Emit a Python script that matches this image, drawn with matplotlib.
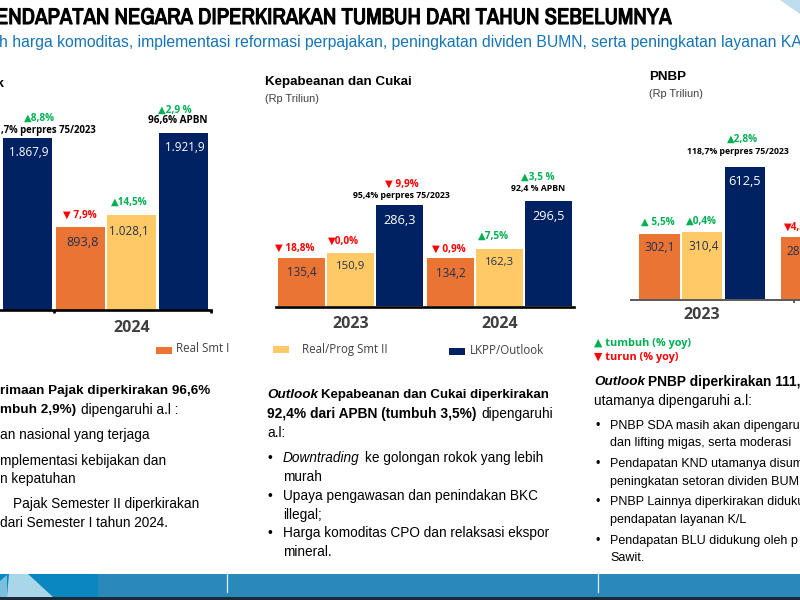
import matplotlib
matplotlib.use("Agg")
import matplotlib.pyplot as plt
import matplotlib.patheffects as pe
from matplotlib.patches import Polygon, Rectangle

ORANGE = "#E97434"
YELLOW = "#FFCA66"
NAVY = "#012262"
GREEN = "#00B050"
RED = "#FF0000"
BLUE = "#1474B8"
DARK = "#404040"
ARIAL = "Liberation Sans"
UI = ["Open Sans", "DejaVu Sans"]

# ---- data -----------------------------------------------------------------
pajak_values = [1867.9, 893.8, 1028.1, 1921.9]
pajak_labels = ["1.867,9", "893,8", "1.028,1", "1.921,9"]
pajak_growth = ["▲8,8%", "▼ 7,9%", "▲14,5%", "▲2,9 %"]
pajak_years = ["2024"]

cukai_values = [135.4, 150.9, 286.3, 134.2, 162.3, 296.5]
cukai_labels = ["135,4", "150,9", "286,3", "134,2", "162,3", "296,5"]
cukai_growth = ["▼ 18,8%", "▼0,0%", "▼ 9,9%", "▼ 0,9%", "▲7,5%", "▲3,5 %"]
cukai_years = ["2023", "2024"]

pnbp_values = [302.1, 310.4, 612.5, 288.4]
pnbp_labels = ["302,1", "310,4", "612,5", "288,4"]
pnbp_growth = ["▲ 5,5%", "▲0,4%", "▲2,8%", "▼4,5%"]
pnbp_years = ["2023"]

legend_names = ["Real Smt I", "Real/Prog Smt II", "LKPP/Outlook"]

# ---- canvas ---------------------------------------------------------------
fig = plt.figure(figsize=(8, 6), dpi=100, facecolor="white")
bg = fig.add_axes([0, 0, 1, 1], zorder=0)
bg.set_xlim(0, 800)
bg.set_ylim(600, 0)
bg.axis("off")


def t(x, y, s, size=9.85, weight="normal", style="normal", color="black",
      ha="left", family=ARIAL):
    return bg.text(x, y, s, fontsize=size, fontweight=weight, fontstyle=style,
                   color=color, ha=ha, va="center", family=family, clip_on=False)


# footer band
bg.add_patch(Rectangle((0, 574), 800, 23, fc="#2A88BA", ec="none"))
bg.add_patch(Rectangle((0, 574), 98, 23, fc="#0A87BF", ec="none"))
bg.add_patch(Polygon([(9, 574), (28, 574), (53, 597), (7, 597)], fc="#AAD6E9", ec="none"))
bg.add_patch(Polygon([(0, 581), (7, 575), (7, 597), (0, 597)], fc="#7CBFDC", ec="none"))
bg.add_patch(Rectangle((0, 597), 800, 3, fc="#1B2A38", ec="none"))
bg.plot([227, 227], [574, 592], color="#DDEEF6", lw=0.9)
bg.plot([597.5, 597.5], [574, 592], color="#DDEEF6", lw=0.9)
bg.add_patch(Polygon([(780, 0), (800, 0), (800, 14)], fc="#BFDDEC", ec="none"))

# header
title = t(672, 18, "PENDAPATAN NEGARA DIPERKIRAKAN TUMBUH DARI TAHUN SEBELUMNYA",
          size=16.3, weight="bold", ha="right", family=["Archivo Narrow", "Liberation Sans"])
title.set_path_effects([pe.withStroke(linewidth=0.8, foreground="black")])
t(-1, 42, "h harga komoditas, implementasi reformasi perpajakan, peningkatan dividen BUMN, "
  "serta peningkatan layanan KAI", size=11.3, color=BLUE)

t(3.5, 84, "Pajak", size=9.6, weight="bold", ha="right")
t(265, 82, "Kepabeanan dan Cukai", size=9.6, weight="bold")
t(265, 99, "(Rp Triliun)", size=7.9, color=DARK)
t(649, 77, "PNBP", size=9.6, weight="bold")
t(649, 94, "(Rp Triliun)", size=7.9, color=DARK)


# ---- panels ---------------------------------------------------------------
def panel(values, labels, growth, years, colors, positions, x0, pitch, left, right,
          base, px_per_unit, width, year_pos, year_pad, boundaries, spine_color,
          spine_lw, label_off, growth_off):
    height_px = base - 60
    ax = fig.add_axes([left / 800, 1 - base / 600, (right - left) / 800, height_px / 600],
                      zorder=2)
    ax.patch.set_alpha(0)
    ax.bar(positions, values, width=width, color=colors, linewidth=0)
    ax.set_xlim((left - x0) / pitch, (right - x0) / pitch)
    ax.set_ylim(0, height_px / px_per_unit)
    for name in ["top", "left", "right"]:
        ax.spines[name].set_visible(False)
    ax.spines["bottom"].set_color(spine_color)
    ax.spines["bottom"].set_linewidth(spine_lw)
    ax.spines["bottom"].set_position(("outward", 0.7))
    ax.set_yticks([])
    ax.set_xticks(year_pos)
    ax.set_xticklabels(years, fontsize=11.5, fontweight="bold", color=DARK, family="Open Sans")
    ax.tick_params(axis="x", which="major", length=0, pad=year_pad)
    ax.set_xticks(boundaries, minor=True)
    ax.tick_params(axis="x", which="minor", length=2.5, width=spine_lw, color=spine_color)
    for p, v, s, c, (dx, dy, fs) in zip(positions, values, labels, colors, label_off):
        tc = "white" if c == NAVY else "#26304F"
        ax.annotate(s, (p, v), xytext=(dx * 0.72, -dy * 0.72), textcoords="offset points",
                    ha="center", va="center", fontsize=fs, color=tc, family="Open Sans",
                    annotation_clip=False)
    for p, v, s, (dx, dy) in zip(positions, values, growth, growth_off):
        ax.annotate(s, (p, v), xytext=(dx * 0.72, dy * 0.72), textcoords="offset points",
                    ha="center", va="center", fontsize=7.2, fontweight="bold",
                    color=GREEN if s[0] == "▲" else RED, family=UI, annotation_clip=False)
    return ax


panel(pajak_values, pajak_labels, pajak_growth, pajak_years,
      [NAVY, ORANGE, YELLOW, NAVY], [0, 1.03, 2.03, 3.03], 27.5, 51.6, 0, 211, 309.5, 0.092,
      0.95, [2.03], 7, [0.51, 3.57], "black", 1.9,
      [(1.5, 15, 8.4), (2, 15.5, 9.2), (-2.5, 16.5, 8.4), (1.5, 15, 8.4)],
      [(12, 19.5), (-1, 12.5), (-3, 12.5), (-8, 22)])
panel(cukai_values, cukai_labels, cukai_growth, cukai_years,
      [ORANGE, YELLOW, NAVY, ORANGE, YELLOW, NAVY], [0, 1, 1.99, 3.04, 4.04, 5.04],
      301.7, 49, 276, 574, 305.7, 0.352,
      0.96, [1, 4.04], 7, [], "black", 1.9,
      [(0, 14, 8.4), (0, 14, 8.2), (0, 15.5, 9.2), (0, 15, 8.4), (0, 14, 8.2), (0, 15.5, 9.2)],
      [(-7, 9.5), (-7, 11.5), (2.5, 21), (-2, 9.5), (-6, 12.5), (-11, 24.5)])
panel(pnbp_values, pnbp_labels, pnbp_growth, pnbp_years,
      [ORANGE, YELLOW, NAVY, ORANGE], [0, 1, 2, 3.33], 659.5, 42.7, 631, 800, 299.3, 0.2165,
      0.95, [1], 5, [3.33 - 0.19], "#595959", 1.4,
      [(0, 14, 8.6), (1.5, 14, 8.6), (0, 15, 9.2), (0, 15, 8.6)],
      [(-2, 11.5), (-1, 11), (-2, 27), (-2, 10)])

# notes above the navy bars
NOTE = dict(size=6.3, weight="bold", ha="center", family="Open Sans")
t(96, 130, ",7% perpres 75/2023", size=6.9, weight="bold", ha="right", family="Open Sans")
t(177.5, 121, "96,6% APBN", size=7.2, weight="bold", ha="center", family="Open Sans")
t(401, 195, "95,4% perpres 75/2023", **NOTE)
t(538, 189, "92,4 % APBN", **NOTE)
t(738, 152, "118,7% perpres 75/2023", **NOTE)

# legend
for (px, py, col), name, tx, ty in zip(
        [(156, 347, ORANGE), (273, 346, YELLOW), (449, 348, NAVY)],
        legend_names, [176, 302, 470], [349, 349, 350.5]):
    bg.add_patch(Rectangle((px, py), 15.5, 6.5, fc=col, ec="none"))
    t(tx, ty, name, size=8.3, color=DARK, family="Open Sans")

t(594, 343.5, "▲ tumbuh (% yoy)", size=7.8, weight="bold", color=GREEN, family=UI)
t(594, 357.5, "▼ turun (% yoy)", size=7.8, weight="bold", color=RED, family=UI)

# left commentary
t(0, 391, "rimaan Pajak diperkirakan 96,6%", size=9.7, weight="bold")
t(0, 410, "mbuh 2,9%)", size=9.7, weight="bold")
t(81, 410, "dipengaruhi a.l :")
t(0, 435, "an nasional yang terjaga")
t(0, 460.7, "mplementasi kebijakan dan")
t(0, 479, "n kepatuhan")
t(13, 504, "Pajak Semester II diperkirakan")
t(0, 523, "dari Semester I tahun 2024.")

# middle commentary
t(267, 395, "Outlook", size=9.7, weight="bold", style="italic")
t(321, 395, "Kepabeanan dan Cukai diperkirakan", size=9.55, weight="bold")
t(267, 414, "92,4% dari APBN (tumbuh 3,5%)", size=9.9, weight="bold")
t(481, 414, "dipengaruhi")
t(267, 433, "a.l:")
for y in [458, 496, 533]:
    t(268, y, "•")
t(283, 457.7, "Downtrading", style="italic")
t(365, 457.7, "ke golongan rokok yang lebih")
t(283, 477, "murah")
t(283, 496, "Upaya pengawasan dan penindakan BKC")
t(283, 515, "illegal;")
t(283, 533, "Harga komoditas CPO dan relaksasi ekspor")
t(283, 552, "mineral.")

# right commentary
t(594, 382, "Outlook", size=9.7, weight="bold", style="italic")
t(648, 382, "PNBP diperkirakan 111,", size=9.9, weight="bold")
t(594, 401, "utamanya dipengaruhi a.l:")
for y in [426, 464, 502, 541]:
    t(596, y, "•", size=9)
for y, s in zip([426, 443, 464, 482, 502, 520, 541, 558],
                ["PNBP SDA masih akan dipengaruhi", "dan lifting migas, serta moderasi",
                 "Pendapatan KND utamanya disumbang", "peningkatan setoran dividen BUMN",
                 "PNBP Lainnya diperkirakan didukung", "pendapatan layanan K/L",
                 "Pendapatan BLU didukung oleh p", "Sawit."]):
    t(610, y, s, size=9)

fig.savefig("out.png", dpi=100, facecolor="white")
